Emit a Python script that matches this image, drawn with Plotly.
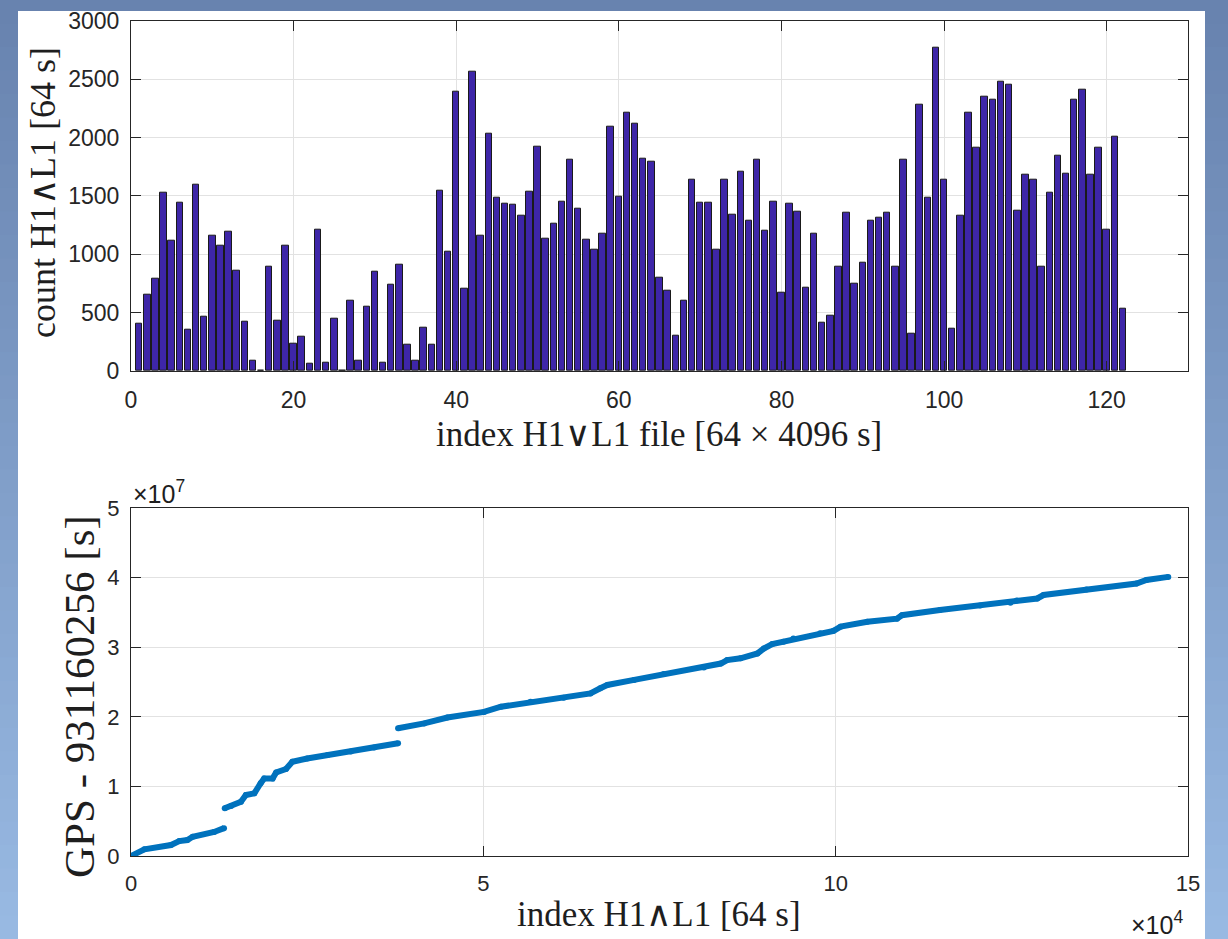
import plotly.graph_objects as go

# ---------------- data ----------------
file_index = list(range(1, 123))
counts = [408, 651, 793, 1530, 1119, 1441, 357, 1595, 468, 1162,
          1076, 1190, 862, 422, 86, 0, 893, 434, 1076, 231,
          291, 60, 1213, 71, 451, 6, 599, 91, 548, 848,
          74, 742, 908, 223, 91, 371, 228, 1544, 1019, 2392,
          708, 2560, 1162, 2035, 1484, 1433, 1424, 1327, 1538, 1918,
          1133, 1264, 1450, 1812, 1390, 1122, 1036, 1176, 2095, 1493,
          2209, 2118, 1818, 1792, 802, 691, 303, 602, 1641, 1438,
          1444, 1036, 1641, 1336, 1707, 1287, 1812, 1199, 1447, 674,
          1436, 1361, 716, 1173, 414, 477, 890, 1356, 745, 925,
          1287, 1316, 1358, 890, 1807, 320, 2280, 1481, 2771, 1641,
          365, 1327, 2215, 1909, 2349, 2323, 2480, 2454, 1376, 1684,
          1635, 890, 1530, 1847, 1692, 2320, 2412, 1681, 1915, 1213,
          2003, 537]

# GPS curve, read in units of 1e4 (index) and 1e7 (seconds), three segments
seg1_idx = [0, 0.19, 0.567, 0.685, 0.80, 0.875, 1.18, 1.32]
seg1_gps = [0, 0.096, 0.158, 0.215, 0.23, 0.277, 0.345, 0.40]
seg2_idx = [1.33, 1.42, 1.56, 1.63, 1.75, 1.84, 1.89, 2.01, 2.06, 2.20, 2.29,
            2.50, 2.79, 3.12, 3.45, 3.79]
seg2_gps = [0.685, 0.718, 0.78, 0.876, 0.90, 1.045, 1.115, 1.115, 1.20, 1.25, 1.355,
            1.40, 1.45, 1.50, 1.56, 1.62]
seg3_idx = [3.79, 4.16, 4.49, 5.01, 5.25, 5.67, 6.14, 6.52, 6.66, 6.76, 7.14, 7.56,
            8.13, 8.37, 8.46, 8.65, 8.89, 8.98, 9.10, 9.26, 9.40, 9.78, 9.97, 10.07,
            10.45, 10.87, 10.94, 11.48, 12.05, 12.48, 12.57, 12.86, 12.95, 13.56,
            14.27, 14.41, 14.72]
seg3_gps = [1.835, 1.905, 1.99, 2.07, 2.145, 2.215, 2.275, 2.335, 2.41, 2.457, 2.53, 2.615,
            2.71, 2.765, 2.815, 2.84, 2.91, 2.98, 3.045, 3.08, 3.125, 3.20, 3.235, 3.295,
            3.365, 3.41, 3.46, 3.535, 3.60, 3.64, 3.67, 3.70, 3.75, 3.83,
            3.915, 3.965, 4.01]

top_xticks = [0, 20, 40, 60, 80, 100, 120]
top_yticks = [0, 500, 1000, 1500, 2000, 2500, 3000]
bot_xticks = [0, 5, 10, 15]          # x 1e4
bot_yticks = [0, 1, 2, 3, 4, 5]      # x 1e7

# ---------------- figure ----------------
W, H = 1228, 939
def px(x): return x / W
def py(y): return 1 - y / H

gps_x, gps_y = [], []
for sx, sy in ((seg1_idx, seg1_gps), (seg2_idx, seg2_gps), (seg3_idx, seg3_gps)):
    if gps_x:
        gps_x.append(None); gps_y.append(None)
    gps_x += [v * 1e4 for v in sx]
    gps_y += [v * 1e7 for v in sy]

fig = go.Figure()
fig.add_trace(go.Bar(
    x=file_index, y=counts, width=0.8,
    marker=dict(color='#3e26a8', line=dict(color='#1a1a1a', width=1)),
    xaxis='x', yaxis='y', showlegend=False))
fig.add_trace(go.Scatter(
    x=gps_x, y=gps_y, mode='lines+markers', connectgaps=False,
    line=dict(color='#0072BD', width=6),
    marker=dict(color='#0072BD', size=6),
    xaxis='x2', yaxis='y2', showlegend=False))

axcol = '#262626'
gridcol = '#e2e2e2'
sans = 'Liberation Sans, Arial, sans-serif'
tickfont_top = dict(family=sans, size=23, color=axcol)
tickfont_bot = dict(family=sans, size=22, color=axcol)
common = dict(showline=True, linecolor=axcol, linewidth=1, mirror='ticks',
              ticks='inside', ticklen=10, tickcolor=axcol, tickwidth=1,
              showgrid=True, gridcolor=gridcol, gridwidth=1, zeroline=False,
              automargin=False)

fig.update_layout(
    template='none',
    width=W, height=H,
    autosize=False,
    margin=dict(l=0, r=0, t=0, b=0, pad=0),
    paper_bgcolor='#ffffff', plot_bgcolor='#ffffff',
    showlegend=False,
    bargap=0,
    xaxis=dict(domain=[px(131), px(1188)], anchor='y', range=[0, 130],
               tickmode='array', tickvals=top_xticks, tickfont=tickfont_top,
               ticklabelstandoff=8, **common),
    yaxis=dict(domain=[py(371), py(20.7)], anchor='x', range=[0, 3000],
               tickmode='array', tickvals=top_yticks, tickfont=tickfont_top,
               ticklabelstandoff=6, **common),
    xaxis2=dict(domain=[px(131), px(1188)], anchor='y2', range=[0, 15e4],
                tickmode='array', tickvals=[v * 1e4 for v in bot_xticks],
                ticktext=[str(v) for v in bot_xticks], tickfont=tickfont_bot,
                ticklabelstandoff=8, **common),
    yaxis2=dict(domain=[py(856), py(508)], anchor='x2', range=[0, 5e7],
                tickmode='array', tickvals=[v * 1e7 for v in bot_yticks],
                ticktext=[str(v) for v in bot_yticks], tickfont=tickfont_bot,
                ticklabelstandoff=6, **common),
)

# background: blue gradient frame + white panel
top_rgb = (104, 131, 175)
bot_rgb = (152, 185, 226)
n = 40
for i in range(n):
    t = i / (n - 1)
    c = tuple(int(round(a + (b - a) * t)) for a, b in zip(top_rgb, bot_rgb))
    fig.add_shape(type='rect', xref='paper', yref='paper', layer='below',
                  x0=0, x1=1, y0=1 - (i + 1) / n - 0.001, y1=1 - i / n,
                  fillcolor='rgb(%d,%d,%d)' % c, line=dict(width=0))
fig.add_shape(type='rect', xref='paper', yref='paper', layer='below',
              x0=px(18), x1=px(1205), y0=0, y1=py(11),
              fillcolor='#ffffff', line=dict(width=0))

serif = 'Liberation Serif, Times New Roman, serif'
tcol = '#1e1e1e'
WEDGE = '<span style="font-family:DejaVu Sans ExtraLight, DejaVu Sans;font-weight:200">%s</span>'
AND = WEDGE % '\u2227'
OR = WEDGE % '\u2228'

def ann(text, x, y, size, angle=0, xanchor='center', yanchor='middle', family=serif):
    fig.add_annotation(text=text, x=px(x), y=py(y), xref='paper', yref='paper',
                       showarrow=False, textangle=angle, xanchor=xanchor, yanchor=yanchor,
                       font=dict(family=family, size=size, color=tcol))

ann('index H1' + OR + 'L1 file [64 \u00d7 4096 s]', 659, 434, 35)
ann('count H1' + AND + 'L1 [64 s]', 42, 193, 36, angle=-90)
ann('index H1' + AND + 'L1 [64 s]', 659, 914, 35)
ann('GPS - 931160256 [s]', 79, 697, 43, angle=-90)
ann('\u00d710<sup>7</sup>', 131, 492, 25, xanchor='left', family=sans)
ann('\u00d710<sup>4</sup>', 1129, 923, 25, xanchor='left', family=sans)

fig.write_html('out.html')
